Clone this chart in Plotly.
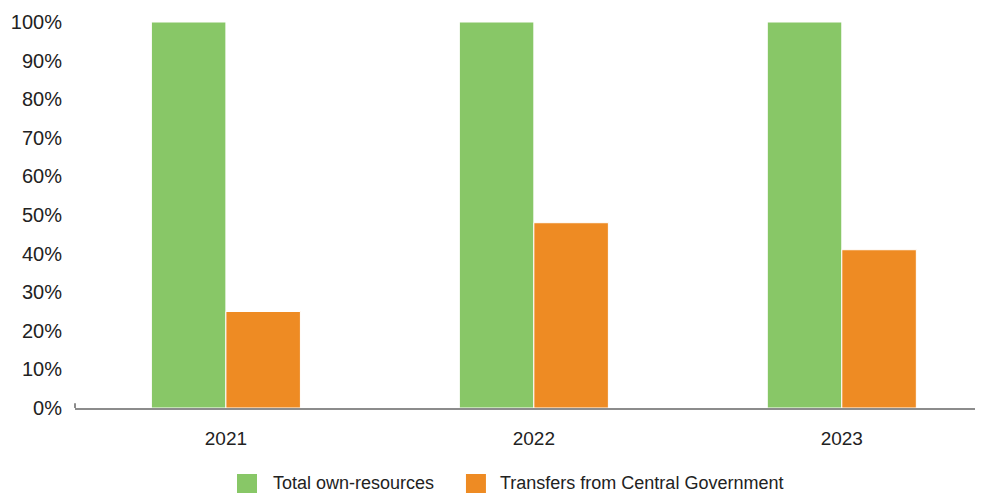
import plotly.graph_objects as go

years = ["2021", "2022", "2023"]
own_resources = [100, 100, 100]
central_transfers = [25, 48, 41]

series_names = ["Total own-resources", "Transfers from Central Government"]
colors = ["#88C767", "#EE8B23"]
y_ticks = [0, 10, 20, 30, 40, 50, 60, 70, 80, 90, 100]
y_tick_text = [f"{v}%" for v in y_ticks]

fig = go.Figure()
for name, vals, col in zip(series_names, [own_resources, central_transfers], colors):
    fig.add_trace(go.Bar(
        x=years, y=vals, name=name,
        marker=dict(color=col, line=dict(color="white", width=1)),
        showlegend=False,
    ))

font_family = "Liberation Sans, Arial, sans-serif"
fig.update_layout(
    width=984, height=493,
    margin=dict(l=75, r=9, t=22, b=85, autoexpand=False),
    paper_bgcolor="white", plot_bgcolor="white",
    barmode="group", bargap=0.516, bargroupgap=0,
    font=dict(family=font_family, color="#222222"),
    showlegend=False,
    xaxis=dict(
        range=[-0.49, 2.4325],
        showgrid=False, showline=True, linecolor="#8c8c8c", linewidth=2,
        ticks="", tickfont=dict(size=19), ticklabelstandoff=12,
    ),
    yaxis=dict(
        range=[0, 100], tickvals=y_ticks, ticktext=y_tick_text,
        showgrid=False, zeroline=False, showline=False,
        tickfont=dict(size=20), ticklabelstandoff=12,
    ),
)

# short stub at the left end of the baseline
fig.add_shape(type="line", xref="paper", yref="y", x0=0, x1=0, y0=0, y1=1.2,
              line=dict(color="#8c8c8c", width=2))

# legend below the plot: square swatches with labels
legend_items = [
    (series_names[0], colors[0], 0.180, 0.2178),
    (series_names[1], colors[1], 0.4344, 0.470),
]
for name, col, sx, tx in legend_items:
    fig.add_shape(type="rect", xref="paper", yref="paper",
                  x0=sx, x1=sx + 0.0222, y0=-0.171, y1=-0.2228,
                  fillcolor=col, line=dict(width=0))
    fig.add_annotation(text=name, xref="paper", yref="paper", x=tx, y=-0.194,
                       xanchor="left", yanchor="middle", showarrow=False,
                       font=dict(size=18, family=font_family, color="#222222"))

fig.write_html("out.html")
